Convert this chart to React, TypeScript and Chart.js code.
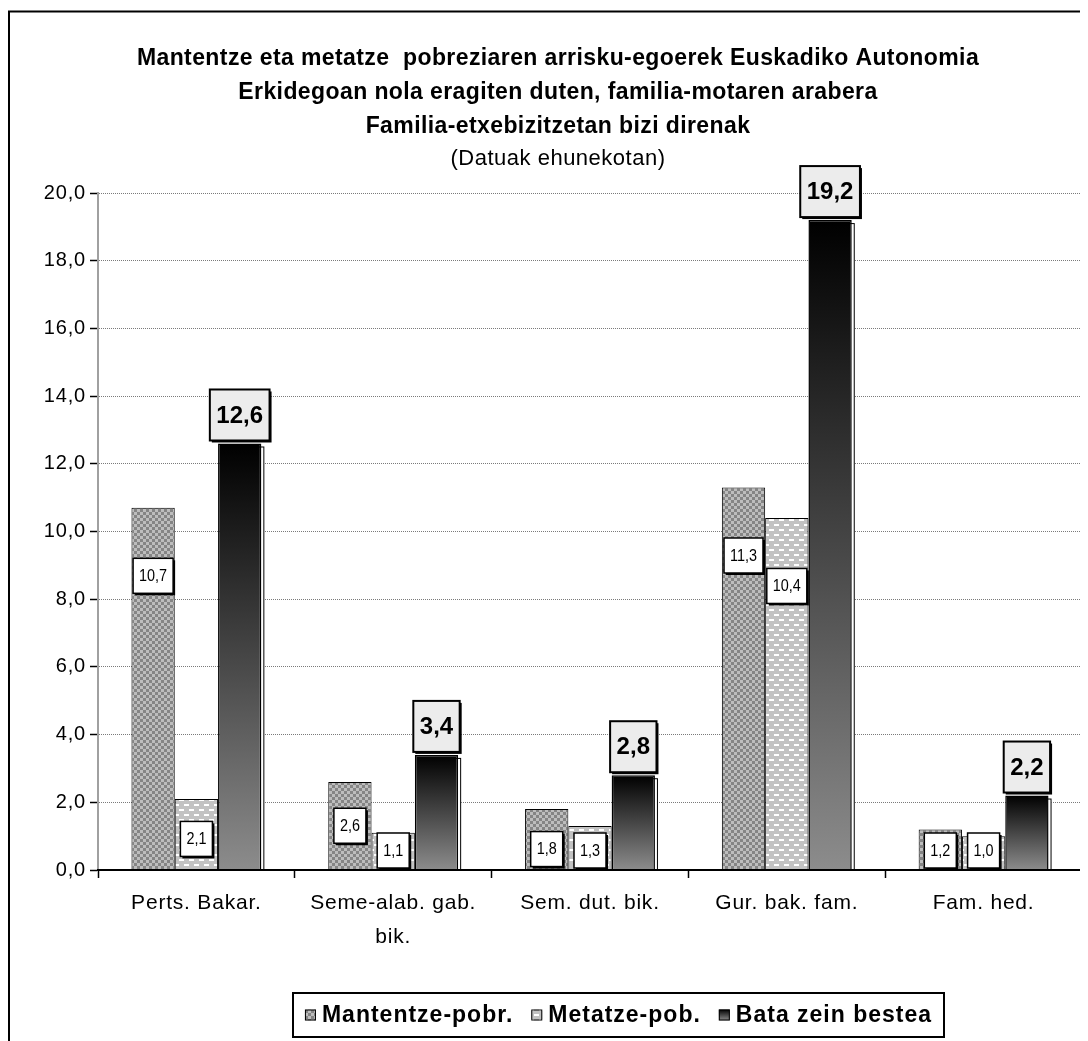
import React, { useEffect, useRef } from "react";
import { Chart, registerables } from "chart.js";

Chart.register(...registerables);

const FONT = "'Liberation Sans', Arial, Helvetica, sans-serif";

const categories: (string | string[])[] = [
  "Perts. Bakar.",
  ["Seme-alab. gab.", "bik."],
  "Sem. dut. bik.",
  "Gur. bak. fam.",
  "Fam. hed.",
];
const mantentzePobr = [10.7, 2.6, 1.8, 11.3, 1.2];
const metatzePob = [2.1, 1.1, 1.3, 10.4, 1.0];
const bataZeinBestea = [12.6, 3.4, 2.8, 19.2, 2.2];
const seriesNames = ["Mantentze-pobr.", "Metatze-pob.", "Bata zein bestea"];
const titleLines = [
  "Mantentze eta metatze  pobreziaren arrisku-egoerek Euskadiko Autonomia",
  "Erkidegoan nola eragiten duten, familia-motaren arabera",
  "Familia-etxebizitzetan bizi direnak",
];
const subtitleText = "(Datuak ehunekotan)";
const yMin = 0;
const yMax = 20;
const yStep = 2;

const fmt = (v: number) => v.toFixed(1).replace(".", ",");

function makeChecker(): CanvasPattern | string {
  const c = document.createElement("canvas");
  c.width = 6;
  c.height = 6;
  const g = c.getContext("2d");
  if (!g) return "#999";
  g.fillStyle = "#858585";
  g.fillRect(0, 0, 6, 6);
  g.fillStyle = "#bdbdbd";
  g.fillRect(0, 0, 3, 3);
  g.fillRect(3, 3, 3, 3);
  return g.createPattern(c, "repeat") || "#999";
}

function makeDashes(): CanvasPattern | string {
  const c = document.createElement("canvas");
  c.width = 10;
  c.height = 10;
  const g = c.getContext("2d");
  if (!g) return "#ccc";
  g.fillStyle = "#c2c2c2";
  g.fillRect(0, 0, 10, 10);
  g.fillStyle = "#ffffff";
  g.fillRect(1, 1, 5, 2);
  g.fillRect(6, 6, 4, 2);
  g.fillRect(0, 6, 1, 2);
  return g.createPattern(c, "repeat") || "#ccc";
}

export default function App() {
  const ref = useRef<HTMLCanvasElement | null>(null);

  useEffect(() => {
    const canvas = ref.current;
    if (!canvas) return;
    const checker = makeChecker();
    const dashes = makeDashes();

    const gradFor = (chart: any, v: number) => {
      const y = chart.scales.y;
      const top = y.getPixelForValue(v);
      const bot = y.getPixelForValue(0);
      const g = chart.ctx.createLinearGradient(0, top, 0, bot);
      g.addColorStop(0, "#000000");
      g.addColorStop(1, "#8c8c8c");
      return g;
    };

    const decor = {
      id: "decor",
      beforeDraw(chart: any) {
        const c = chart.ctx;
        c.save();
        c.fillStyle = "#ffffff";
        c.fillRect(0, 0, chart.width, chart.height);
        c.strokeStyle = "#000";
        c.lineWidth = 2;
        c.strokeRect(1, 3.5, chart.width + 50, chart.height + 50);
        c.restore();
        (c as any).letterSpacing = "0.8px";
      },
      beforeDatasetDraw(chart: any, args: any) {
        if (args.index !== 2) return;
        const meta = chart.getDatasetMeta(2);
        const c = chart.ctx;
        c.save();
        meta.data.forEach((el: any) => {
          const p = el.getProps(["x", "y", "base", "width"], true);
          const l = p.x - p.width / 2 + 3;
          const t = p.y + 3;
          c.fillStyle = "#fff";
          c.fillRect(l, t, p.width, p.base - t);
          c.strokeStyle = "#000";
          c.lineWidth = 1;
          c.strokeRect(l + 0.5, t + 0.5, p.width - 1, p.base - t);
        });
        c.restore();
      },
      afterDatasetsDraw(chart: any) {
        const c = chart.ctx;
        c.save();
        (c as any).letterSpacing = "0px";
        c.textAlign = "center";
        c.textBaseline = "middle";
        [0, 1].forEach((di) => {
          const meta = chart.getDatasetMeta(di);
          const vals = chart.data.datasets[di].data as number[];
          meta.data.forEach((el: any, i: number) => {
            const p = el.getProps(["x", "y", "base"], true);
            const txt = fmt(vals[i]);
            c.font = `16px ${FONT}`;
            const tw = c.measureText(txt).width * 0.9;
            const w = tw + 12;
            const h = 35;
            const hgt = p.base - p.y;
            let cy = p.y + Math.min(68, Math.max(hgt / 2, 40));
            cy = Math.min(cy, p.base - 19);
            const l = p.x - w / 2;
            const t = cy - h / 2;
            c.fillStyle = "#000";
            c.fillRect(l + 2, t + 2, w, h);
            c.fillStyle = "#fff";
            c.fillRect(l, t, w, h);
            c.strokeStyle = "#000";
            c.lineWidth = 1.5;
            c.strokeRect(l, t, w, h);
            c.save();
            c.translate(p.x, cy + 1);
            c.scale(0.9, 1);
            c.fillStyle = "#000";
            c.fillText(txt, 0, 0);
            c.restore();
          });
        });
        const meta2 = chart.getDatasetMeta(2);
        const vals2 = chart.data.datasets[2].data as number[];
        meta2.data.forEach((el: any, i: number) => {
          const p = el.getProps(["x", "y"], true);
          const txt = fmt(vals2[i]);
          c.font = `bold 24px ${FONT}`;
          const tw = c.measureText(txt).width;
          const w = tw + 13;
          const h = 51;
          const l = p.x - w / 2;
          const b = p.y - 3;
          const t = b - h;
          c.fillStyle = "#000";
          c.fillRect(l + 2, t + 2, w, h);
          c.fillStyle = "#ececec";
          c.fillRect(l, t, w, h);
          c.strokeStyle = "#000";
          c.lineWidth = 2;
          c.strokeRect(l, t, w, h);
          c.fillStyle = "#000";
          c.fillText(txt, p.x, t + h / 2 + 1);
        });
        c.restore();
      },
      afterDraw(chart: any) {
        const c = chart.ctx;
        c.save();
        c.fillStyle = "#000";
        c.textAlign = "center";
        c.textBaseline = "middle";
        const cx = chart.width / 2;
        (c as any).letterSpacing = "0.4px";
        c.font = `bold 23px ${FONT}`;
        titleLines.forEach((t, i) => c.fillText(t, cx, 51 + i * 34));
        (c as any).letterSpacing = "0.5px";
        c.font = `22px ${FONT}`;
        c.fillText(subtitleText, cx, 151);

        // legend
        const lx = 285, ly = 985, lw = 651, lh = 44;
        c.strokeStyle = "#000";
        c.lineWidth = 2;
        c.strokeRect(lx, ly, lw, lh);
        (c as any).letterSpacing = "1px";
        c.font = `bold 23px ${FONT}`;
        const box = 11, gapMT = 6, gapItem = 18;
        const widths = seriesNames.map((s) => c.measureText(s).width);
        const total = widths.reduce((a, b) => a + b + box + gapMT, 0) + gapItem * (seriesNames.length - 1);
        let x = lx + (lw - total) / 2;
        const cy = ly + lh / 2;
        c.textAlign = "left";
        const fills: any[] = [checker, dashes, null];
        seriesNames.forEach((s, i) => {
          const bt = cy - box / 2;
          if (i === 2) {
            const g = c.createLinearGradient(0, bt, 0, bt + box);
            g.addColorStop(0, "#000");
            g.addColorStop(1, "#8c8c8c");
            c.fillStyle = g;
          } else {
            c.fillStyle = fills[i];
          }
          c.fillRect(x, bt, box, box);
          c.lineWidth = 1;
          c.strokeStyle = "#000";
          c.strokeRect(x + 0.5, bt + 0.5, box - 1, box - 1);
          x += box + gapMT;
          c.fillStyle = "#000";
          c.fillText(s, x, cy + 1);
          x += widths[i] + gapItem;
        });
        c.restore();
      },
    };

    const chart = new Chart(canvas, {
      type: "bar",
      data: {
        labels: categories,
        datasets: [
          {
            label: seriesNames[0],
            data: mantentzePobr,
            backgroundColor: checker as any,
            borderColor: "#000",
            borderWidth: 1,
            categoryPercentage: 0.66,
            barPercentage: 1,
          },
          {
            label: seriesNames[1],
            data: metatzePob,
            backgroundColor: dashes as any,
            borderColor: "#000",
            borderWidth: 1,
            categoryPercentage: 0.66,
            barPercentage: 1,
          },
          {
            label: seriesNames[2],
            data: bataZeinBestea,
            backgroundColor: (ctx: any) => {
              const ch = ctx.chart;
              if (!ch.chartArea || ctx.type !== "data") return "#444";
              return gradFor(ch, ctx.raw as number);
            },
            borderColor: "#000",
            borderWidth: 1.5,
            categoryPercentage: 0.66,
            barPercentage: 1,
          },
        ],
      },
      options: {
        responsive: false,
        animation: false,
        devicePixelRatio: 1,
        layout: { padding: { top: 185, right: 26, left: 0, bottom: 0 } },
        plugins: {
          legend: { display: false },
          title: { display: false },
          tooltip: { enabled: false },
        },
        scales: {
          x: {
            grid: {
              drawOnChartArea: false,
              drawTicks: true,
              tickLength: 8,
              tickColor: "#000",
              tickWidth: 1.5,
              offset: true,
            },
            border: { color: "#000", width: 2, z: 1 },
            ticks: {
              color: "#000",
              font: { size: 21, family: FONT, lineHeight: 1.62 },
              padding: 8,
              autoSkip: false,
              maxRotation: 0,
              minRotation: 0,
            },
            afterFit: (s: any) => {
              s.height = 188;
            },
          },
          y: {
            min: yMin,
            max: yMax,
            ticks: {
              stepSize: yStep,
              callback: (v: any) => fmt(Number(v)),
              color: "#000",
              font: { size: 20, family: FONT },
              padding: 4,
            },
            grid: {
              color: "#7a7a7a",
              lineWidth: 1,
              tickColor: "#000",
              tickLength: 8,
              tickWidth: 1.5,
            },
            border: { color: "#a0a0a0", width: 2, dash: [1, 1] },
            afterFit: (s: any) => {
              s.width = 90;
            },
          },
        },
      },
      plugins: [decor],
    });

    return () => chart.destroy();
  }, []);

  return (
    <div style={{ width: 1080, height: 1033, overflow: "hidden" }}>
      <canvas ref={ref} width={1100} height={1050} style={{ display: "block", width: 1100, height: 1050 }} />
    </div>
  );
}
